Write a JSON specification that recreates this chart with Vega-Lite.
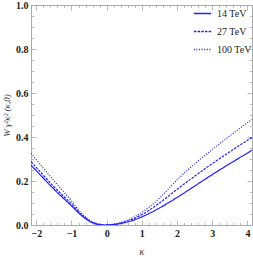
{
  "$schema": "https://vega.github.io/schema/vega-lite/v6.json",
  "width": 221,
  "height": 220,
  "autosize": "none",
  "padding": {"left": 31, "top": 5, "right": 1, "bottom": 32},
  "background": "white",
  "config": {
    "view": {"stroke": "#aaaaaa", "strokeWidth": 1},
    "line": {"stroke": "#1f1fff", "color": "#1f1fff"},
    "legend": {"symbolStrokeColor": "#1f1fff", "symbolBaseStrokeColor": "#1f1fff", "symbolOpacity": 1},
    "axis": {
      "domain": false,
      "grid": false,
      "tickColor": "#aaaaaa",
      "tickWidth": 0.8,
      "labelFont": "Liberation Serif",
      "labelFontWeight": "bold",
      "labelFontSize": 10,
      "labelColor": "#222222",
      "titleFont": "Liberation Serif",
      "titleFontStyle": "italic",
      "titleFontWeight": "normal",
      "titleColor": "#333333"
    }
  },
  "data": {
    "values": [
      {"k": -2.15, "w": 0.272, "s": "14 TeV"},
      {"k": -2.0, "w": 0.247, "s": "14 TeV"},
      {"k": -1.5, "w": 0.163, "s": "14 TeV"},
      {"k": -1.0, "w": 0.087, "s": "14 TeV"},
      {"k": -0.75, "w": 0.048, "s": "14 TeV"},
      {"k": -0.5, "w": 0.018, "s": "14 TeV"},
      {"k": -0.25, "w": 0.003, "s": "14 TeV"},
      {"k": -0.07, "w": 0.0, "s": "14 TeV"},
      {"k": 0.25, "w": 0.003, "s": "14 TeV"},
      {"k": 0.5, "w": 0.01, "s": "14 TeV"},
      {"k": 0.75, "w": 0.021, "s": "14 TeV"},
      {"k": 1.0, "w": 0.037, "s": "14 TeV"},
      {"k": 1.5, "w": 0.077, "s": "14 TeV"},
      {"k": 2.0, "w": 0.125, "s": "14 TeV"},
      {"k": 2.5, "w": 0.177, "s": "14 TeV"},
      {"k": 3.0, "w": 0.229, "s": "14 TeV"},
      {"k": 3.5, "w": 0.279, "s": "14 TeV"},
      {"k": 4.0, "w": 0.327, "s": "14 TeV"},
      {"k": 4.13, "w": 0.34, "s": "14 TeV"},
      {"k": -2.15, "w": 0.288, "s": "27 TeV"},
      {"k": -2.0, "w": 0.262, "s": "27 TeV"},
      {"k": -1.5, "w": 0.174, "s": "27 TeV"},
      {"k": -1.0, "w": 0.096, "s": "27 TeV"},
      {"k": -0.75, "w": 0.053, "s": "27 TeV"},
      {"k": -0.5, "w": 0.02, "s": "27 TeV"},
      {"k": -0.25, "w": 0.004, "s": "27 TeV"},
      {"k": -0.07, "w": 0.0, "s": "27 TeV"},
      {"k": 0.25, "w": 0.004, "s": "27 TeV"},
      {"k": 0.5, "w": 0.013, "s": "27 TeV"},
      {"k": 0.75, "w": 0.027, "s": "27 TeV"},
      {"k": 1.0, "w": 0.047, "s": "27 TeV"},
      {"k": 1.5, "w": 0.1, "s": "27 TeV"},
      {"k": 2.0, "w": 0.162, "s": "27 TeV"},
      {"k": 2.5, "w": 0.222, "s": "27 TeV"},
      {"k": 3.0, "w": 0.279, "s": "27 TeV"},
      {"k": 3.5, "w": 0.333, "s": "27 TeV"},
      {"k": 4.0, "w": 0.385, "s": "27 TeV"},
      {"k": 4.13, "w": 0.398, "s": "27 TeV"},
      {"k": -2.15, "w": 0.326, "s": "100 TeV"},
      {"k": -2.0, "w": 0.297, "s": "100 TeV"},
      {"k": -1.5, "w": 0.202, "s": "100 TeV"},
      {"k": -1.0, "w": 0.11, "s": "100 TeV"},
      {"k": -0.75, "w": 0.06, "s": "100 TeV"},
      {"k": -0.5, "w": 0.024, "s": "100 TeV"},
      {"k": -0.25, "w": 0.005, "s": "100 TeV"},
      {"k": -0.07, "w": 0.0, "s": "100 TeV"},
      {"k": 0.25, "w": 0.005, "s": "100 TeV"},
      {"k": 0.5, "w": 0.017, "s": "100 TeV"},
      {"k": 0.75, "w": 0.034, "s": "100 TeV"},
      {"k": 1.0, "w": 0.057, "s": "100 TeV"},
      {"k": 1.5, "w": 0.122, "s": "100 TeV"},
      {"k": 2.0, "w": 0.205, "s": "100 TeV"},
      {"k": 2.5, "w": 0.278, "s": "100 TeV"},
      {"k": 3.0, "w": 0.343, "s": "100 TeV"},
      {"k": 3.5, "w": 0.405, "s": "100 TeV"},
      {"k": 4.0, "w": 0.465, "s": "100 TeV"},
      {"k": 4.13, "w": 0.48, "s": "100 TeV"}
    ]
  },
  "layer": [
    {
      "mark": {"type": "line", "interpolate": "monotone", "strokeWidth": 1.2, "clip": true, "stroke": "#1f1fff"},
      "encoding": {
        "x": {
          "field": "k", "type": "quantitative",
          "scale": {"domain": [-2.15, 4.13], "nice": false, "zero": false},
          "axis": {
            "orient": "bottom",
            "values": [-2, -1.8, -1.6, -1.4, -1.2, -1, -0.8, -0.6, -0.4, -0.2, 0, 0.2, 0.4, 0.6, 0.8, 1, 1.2, 1.4, 1.6, 1.8, 2, 2.2, 2.4, 2.6, 2.8, 3, 3.2, 3.4, 3.6, 3.8, 4],
            "labelExpr": "abs(datum.value - round(datum.value)) < 0.001 ? format(round(datum.value), 'd') : ''",
            "tickSize": {"condition": {"test": "abs(datum.value - round(datum.value)) < 0.001", "value": -5}, "value": -2.5},
            "labelPadding": 8,
            "title": "κ",
            "titleFontSize": 10,
            "titlePadding": 8
          }
        },
        "y": {
          "field": "w", "type": "quantitative",
          "scale": {"domain": [0, 1], "nice": false},
          "axis": {
            "orient": "left",
            "values": [0, 0.05, 0.1, 0.15, 0.2, 0.25, 0.3, 0.35, 0.4, 0.45, 0.5, 0.55, 0.6, 0.65, 0.7, 0.75, 0.8, 0.85, 0.9, 0.95, 1],
            "labelExpr": "abs(datum.value*5 - round(datum.value*5)) < 0.001 ? format(datum.value, '.1f') : ''",
            "tickSize": {"condition": {"test": "abs(datum.value*5 - round(datum.value*5)) < 0.001", "value": -5}, "value": -2.5},
            "labelPadding": 8,
            "title": "W γ²κ² (κ,0)",
            "titleFontSize": 9,
            "titlePadding": 4
          }
        },
        "strokeDash": {
          "field": "s", "type": "nominal",
          "scale": {"domain": ["14 TeV", "27 TeV", "100 TeV"], "range": [[1, 0], [2.5, 1.2], [1, 1.6]]},
          "legend": {
            "title": null,
            "orient": "none",
            "legendX": 162,
            "legendY": -1,
            "symbolType": "stroke",
            "symbolSize": 300,
            "symbolStrokeWidth": 1.3,
            "symbolStrokeColor": "#1f1fff",
            "labelFont": "Liberation Serif",
            "labelFontSize": 10,
            "labelColor": "#222222",
            "labelOffset": 5,
            "rowPadding": 3
          }
        }
      }
    },
    {
      "mark": {"type": "line", "opacity": 0},
      "encoding": {
        "x": {
          "field": "k", "type": "quantitative",
          "axis": {
            "orient": "top",
            "values": [-2, -1.8, -1.6, -1.4, -1.2, -1, -0.8, -0.6, -0.4, -0.2, 0, 0.2, 0.4, 0.6, 0.8, 1, 1.2, 1.4, 1.6, 1.8, 2, 2.2, 2.4, 2.6, 2.8, 3, 3.2, 3.4, 3.6, 3.8, 4],
            "labels": false,
            "title": null,
            "tickSize": {"condition": {"test": "abs(datum.value - round(datum.value)) < 0.001", "value": -5}, "value": -2.5}
          }
        },
        "y": {
          "field": "w", "type": "quantitative",
          "axis": {
            "orient": "right",
            "values": [0, 0.05, 0.1, 0.15, 0.2, 0.25, 0.3, 0.35, 0.4, 0.45, 0.5, 0.55, 0.6, 0.65, 0.7, 0.75, 0.8, 0.85, 0.9, 0.95, 1],
            "labels": false,
            "title": null,
            "tickSize": {"condition": {"test": "abs(datum.value*5 - round(datum.value*5)) < 0.001", "value": -5}, "value": -2.5}
          }
        },
        "detail": {"field": "s", "type": "nominal"}
      }
    }
  ],
  "resolve": {"axis": {"x": "independent", "y": "independent"}}
}
